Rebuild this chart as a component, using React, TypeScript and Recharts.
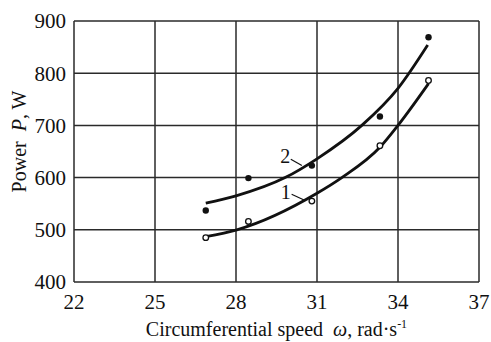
import { LineChart, Line, XAxis, YAxis, CartesianGrid, ReferenceLine, ReferenceDot } from 'recharts';

// measured points
const speed = [26.88, 28.46, 30.81, 33.33, 35.13];
const power1 = [485, 516, 555, 661, 786];
const power2 = [537, 599, 623, 717, 869];

// fitted curves
const fit1Speed = [26.88, 28.03, 31, 31.92, 33.33, 34, 35.13];
const fit1Power = [487, 500, 570, 600, 658, 700, 780];
const fit2Speed = [26.88, 28, 29.82, 31, 32.66, 34, 35.1];
const fit2Power = [551, 565, 600, 636, 700, 771, 854];

const xTicks = [22, 25, 28, 31, 34, 37];
const yTicks = [400, 500, 600, 700, 800, 900];

const font = '"Liberation Serif", "Times New Roman", serif';
const ink = '#111';

const points1 = speed.map((w, i) => ({ w, p: power1[i] }));
const points2 = speed.map((w, i) => ({ w, p: power2[i] }));
const fit1 = fit1Speed.map((w, i) => ({ w, p: fit1Power[i] }));
const fit2 = fit2Speed.map((w, i) => ({ w, p: fit2Power[i] }));

const OpenDot = (props: any) => (
  <circle cx={props.cx} cy={props.cy} r={2.8} fill="#fff" stroke={ink} strokeWidth={1.3} />
);
const FilledDot = (props: any) => <circle cx={props.cx} cy={props.cy} r={3.2} fill={ink} />;

const CurveTag = (text: string) => (props: any) => {
  const { viewBox } = props;
  return (
    <text x={viewBox.cx ?? viewBox.x} y={(viewBox.cy ?? viewBox.y) + 7} textAnchor="middle"
      fontFamily={font} fontSize={20} fill={ink}>{text}</text>
  );
};

export default function App() {
  return (
    <div style={{ position: 'absolute', left: 0, top: 0, background: '#fff' }}>
      <LineChart width={491} height={342} margin={{ top: 21, right: 12, bottom: 0, left: 0 }}>
        <CartesianGrid stroke="#2a2a2a" strokeWidth={1.5} />
        <XAxis
          type="number"
          dataKey="w"
          domain={[22, 37]}
          ticks={xTicks}
          height={60}
          axisLine={false}
          tickLine={false}
          tickMargin={6}
          tick={{ fill: ink, fontFamily: font, fontSize: 21 }}
          label={(props: any) => {
            const { viewBox } = props;
            return (
              <text x={viewBox.x + viewBox.width / 2} y={336} textAnchor="middle"
                fontFamily={font} fontSize={20} fill={ink}>
                Circumferential speed{'\u00a0\u00a0'}<tspan fontStyle="italic">ω</tspan>, rad·s
                <tspan dy={-8} fontSize={12}>-1</tspan>
              </text>
            );
          }}
        />
        <YAxis
          type="number"
          dataKey="p"
          domain={[400, 900]}
          ticks={yTicks}
          width={74}
          axisLine={false}
          tickLine={false}
          tick={{ fill: ink, fontFamily: font, fontSize: 21 }}
          label={(props: any) => {
            const { viewBox } = props;
            const cy = viewBox.y + viewBox.height / 2 - 10;
            return (
              <text x={26} y={cy} transform={`rotate(-90 26 ${cy})`} textAnchor="middle"
                fontFamily={font} fontSize={20} fill={ink}>
                Power{'\u00a0\u00a0'}<tspan fontStyle="italic">P</tspan>, W
              </text>
            );
          }}
        />
        <Line data={fit1} dataKey="p" type="monotone" stroke={ink} strokeWidth={2.8} dot={false} isAnimationActive={false} />
        <Line data={fit2} dataKey="p" type="monotone" stroke={ink} strokeWidth={2.8} dot={false} isAnimationActive={false} />
        <Line data={points1} dataKey="p" stroke="none" dot={<OpenDot />} isAnimationActive={false} />
        <Line data={points2} dataKey="p" stroke="none" dot={<FilledDot />} isAnimationActive={false} />
        <ReferenceLine segment={[{ x: 30.03, y: 635 }, { x: 30.44, y: 623 }]} stroke={ink} strokeWidth={1.2} />
        <ReferenceLine segment={[{ x: 30.06, y: 568 }, { x: 30.56, y: 556 }]} stroke={ink} strokeWidth={1.2} />
        <ReferenceDot x={29.82} y={641} r={0} stroke="none" label={CurveTag('2')} />
        <ReferenceDot x={29.84} y={572} r={0} stroke="none" label={CurveTag('1')} />
      </LineChart>
    </div>
  );
}
